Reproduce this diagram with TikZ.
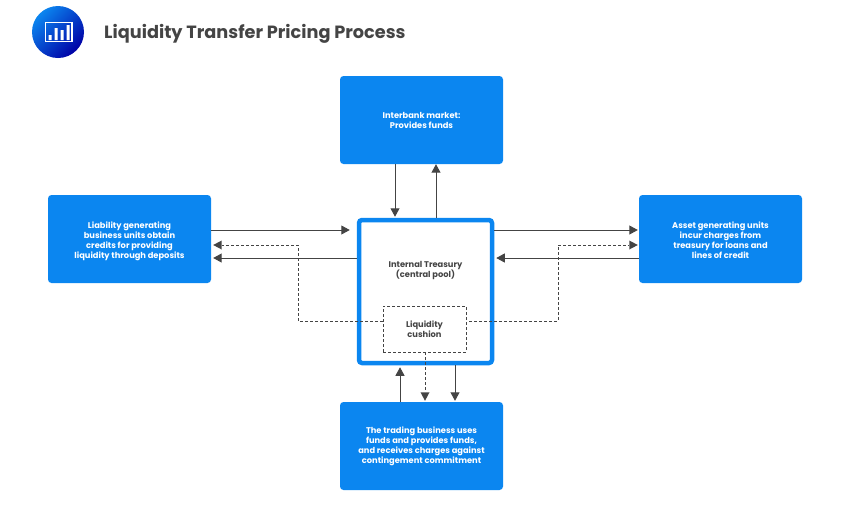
\documentclass[tikz,border=0pt]{standalone}
\usepackage{fontspec}
\setmainfont{Poppins}
\usetikzlibrary{arrows.meta,calc}
\definecolor{boxblue}{HTML}{0B86F0}
\definecolor{ink}{HTML}{444444}
\tikzset{
  bluebox/.style={fill=boxblue,rounded corners=3.5pt,minimum width=163pt,minimum height=88pt,inner sep=0pt,
    text=white,font=\fontsize{8.3}{10}\selectfont\bfseries,align=center},
  arrowline/.style={draw=ink,line width=1pt,-{Triangle[length=8.5pt,width=9pt]}},
  dashline/.style={draw=ink,line width=.7pt,dash pattern=on 3pt off 2pt},
  dasharrow/.style={dashline,-{Triangle[length=8.5pt,width=9pt,fill=ink,line width=0pt]}},
}
\begin{document}
\begin{tikzpicture}[x=1pt,y=-1pt]
\useasboundingbox (0,0) rectangle (850,531);
% icon
\shade[left color=boxblue,right color=blue!65!black,shading angle=45] (58,32) circle (26);
\draw[white,line width=1.1pt] (45.5,22.5) rectangle (72,41.5);
\fill[white] (48.5,35) rectangle (51.5,40) (54.5,28) rectangle (57.5,40) (60.5,30) rectangle (63.5,40) (66.5,25) rectangle (69.5,40);
\node[anchor=west,inner sep=0pt,text=ink,font=\fontsize{17.7}{20}\selectfont\bfseries] (title) at (104,33.5) {Liquidity Transfer Pricing Process};
% boxes
\node[bluebox] (top) at (421.5,120) {Interbank market:\\Provides funds};
\node[bluebox] (left) at (129.5,239) {\rule{0pt}{11pt}Liability generating\\business units obtain\\credits for providing\\liquidity through deposits};
\node[bluebox] (right) at (720.5,239) {\rule{0pt}{10pt}Asset generating units\\incur charges from\\treasury for loans and\\lines of credit};
\node[bluebox] (bottom) at (421.5,446) {The trading business uses\\funds and provides funds,\\and receives charges against\\contingement commitment};
% centre
\node[draw=boxblue,line width=4.5pt,rounded corners=3pt,fill=white,minimum width=133pt,minimum height=143pt,inner sep=0pt] (pool) at (425.5,291.5) {};
\node[inner sep=0pt,text=ink,align=center,font=\fontsize{8.3}{10}\selectfont\bfseries] (pooltext) at (425.5,270.5) {Internal Treasury\\(central pool)};
\node[dashline,minimum width=83pt,minimum height=46pt,inner sep=0pt,text=ink,align=center,font=\fontsize{8.3}{10}\selectfont\bfseries] (cushion) at (424.5,329) {Liquidity\\cushion};
% solid connectors
\draw[arrowline] ([xshift=-26.5pt]top.south) -- ([xshift=-30.5pt,yshift=1pt]pool.north);
\draw[arrowline] ([xshift=10.5pt]pool.north) -- ([xshift=14.5pt]top.south);
\draw[arrowline] ([yshift=9pt]left.east) -- ([xshift=-7pt,yshift=61.5pt]pool.west);
\draw[arrowline] ([yshift=33.5pt]pool.west) -- ([xshift=2pt,yshift=-19pt]left.east);
\draw[arrowline] ([yshift=61.5pt]pool.east) -- ([xshift=-1pt,yshift=9pt]right.west);
\draw[arrowline] ([yshift=-19pt]right.west) -- ([xshift=2pt,yshift=33.5pt]pool.east);
\draw[arrowline] ([xshift=-21.5pt]bottom.north) -- ([xshift=-25.5pt,yshift=-2pt]pool.south);
\draw[arrowline] ([xshift=29.5pt]pool.south) -- ([xshift=33.5pt,yshift=1pt]bottom.north);
% dashed connectors
\draw[dasharrow] ([yshift=8pt]cushion.west) -| (298,245) -- ([xshift=2pt,yshift=-6pt]left.east);
\draw[dasharrow] ([xshift=3pt,yshift=8pt]cushion.east) -| (558,245) -- ([xshift=-1pt,yshift=-6pt]right.west);
\draw[dasharrow] ([xshift=.5pt]cushion.south) -- ([xshift=3.5pt,yshift=1pt]bottom.north);
\end{tikzpicture}
\end{document}
